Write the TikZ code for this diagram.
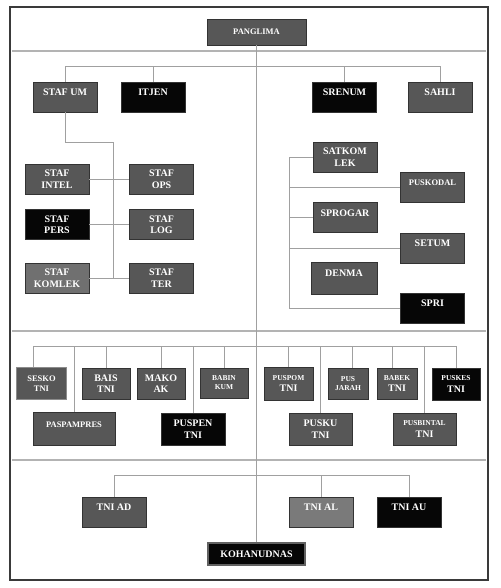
\documentclass[tikz,border=0pt]{standalone}
\usepackage{fontspec}
\setmainfont{Liberation Serif}
\usetikzlibrary{positioning}

\definecolor{unitgray}{HTML}{575757}
\definecolor{unitblack}{HTML}{060606}
\definecolor{unitlight}{HTML}{707070}
\definecolor{linegray}{HTML}{A0A0A0}
\definecolor{framegray}{HTML}{3A3A3A}

\newcommand{\fbig}{\fontsize{10}{11.5}\selectfont\bfseries}
\newcommand{\fmid}{\fontsize{8.5}{10}\selectfont\bfseries}
\newcommand{\fsml}{\fontsize{7.5}{9}\selectfont\bfseries}

\begin{document}
\begin{tikzpicture}[x=1pt, y=-1pt,
  unit/.style={draw=black!80, line width=0.8pt, fill=unitgray, text=white,
    font=\fbig, align=center, inner sep=0pt,
    minimum width=64, minimum height=30},
  unitdark/.style={unit, fill=unitblack},
  unitlight/.style={unit, fill=unitlight},
  oneline/.style={text height=7pt, text depth=10pt},
  small/.style={minimum width=48, minimum height=31},
  conn/.style={draw=linegray, line width=0.9pt},
  sepline/.style={draw=linegray!80, line width=1.3pt}]
  \useasboundingbox (0,0) rectangle (500,588);
  \fill[white] (0,0) rectangle (500,588);

  %% Frame and band separators
  \draw[framegray, line width=2.6pt] (10,7) rectangle (488,580);
  \draw[sepline] (12,51) -- (486,51);
  \draw[sepline] (12,331) -- (486,331);
  \draw[sepline] (12,460) -- (486,460);

  %% Top
  \node[unit, font=\fmid, minimum width=99, minimum height=26] (panglima)
    at (256.5,32) {PANGLIMA};
  \node[unit, oneline] (stafum) at (65,97) {STAF UM};
  \node[unitdark, oneline] (itjen) at (153,97) {ITJEN};
  \node[unitdark, oneline] (srenum) at (344.5,97) {SRENUM};
  \node[unit, oneline] (sahli) at (440,97) {SAHLI};

  %% Staff group (left)
  \node[unit] (stafintel) at (57,179) {STAF\\INTEL};
  \node[unit] (stafops) at (161.5,179) {STAF\\OPS};
  \node[unitdark] (stafpers) at (57,224.5) {STAF\\PERS};
  \node[unit] (staflog) at (161.5,224.5) {STAF\\LOG};
  \node[unitlight] (stafkomlek) at (57,278) {STAF\\KOMLEK};
  \node[unit] (stafter) at (161.5,278) {STAF\\TER};

  %% Service group (right)
  \node[unit] (satkomlek) at (345,157) {SATKOM\\LEK};
  \node[unit, oneline, font=\fmid] (puskodal) at (432.5,187) {PUSKODAL};
  \node[unit, oneline] (sprogar) at (345,217.5) {SPROGAR};
  \node[unit, oneline] (setum) at (432.5,248) {SETUM};
  \node[unit, oneline, minimum width=66, minimum height=32] (denma)
    at (344,278) {DENMA};
  \node[unitdark, oneline] (spri) at (432.5,308) {SPRI};

  %% Central bodies
  \node[unit, small, draw=black!45, line width=1.8pt, minimum width=50,
    minimum height=32, font=\fmid] (sesko) at (41.5,383.5) {SESKO\\TNI};
  \node[unit, oneline, font=\fmid, minimum width=82, minimum height=33]
    (paspampres) at (74,428.5) {PASPAMPRES};
  \node[unit, small] (bais) at (106,383.5) {BAIS\\TNI};
  \node[unit, small] (makoak) at (161,383.5) {MAKO\\AK};
  \node[unitdark, minimum height=32] (puspen) at (193,429) {PUSPEN\\TNI};
  \node[unit, small, minimum height=30, font=\fsml] (babinkum)
    at (224,383) {BABIN\\KUM};
  \node[unit, small, minimum width=49, minimum height=33, font=\fbig]
    (puspom) at (288.5,383.5) {{\fsml PUSPOM}\\TNI};
  \node[unit, minimum width=63, minimum height=32] (pusku)
    at (320.5,429) {PUSKU\\TNI};
  \node[unit, small, minimum width=40, font=\fsml] (pusjarah)
    at (348,383.5) {PUS\\JARAH};
  \node[unit, small, minimum width=40, font=\fbig] (babek)
    at (397,383.5) {{\fsml BABEK}\\TNI};
  \node[unit, minimum width=63, minimum height=32, font=\fbig] (pusbintal)
    at (424.5,429) {{\fsml PUSBINTAL}\\TNI};
  \node[unitdark, small, minimum height=32, font=\fbig] (puskes)
    at (456,384) {{\fsml PUSKES}\\TNI};

  %% Forces
  \node[unit, oneline] (tniad) at (114,512) {TNI AD};
  \node[unitlight, fill=black!52, oneline] (tnial) at (321,512) {TNI AL};
  \node[unitdark, oneline] (tniau) at (409,512) {TNI AU};
  \node[unitdark, draw=black!62, line width=2.4pt, minimum width=97,
    minimum height=22] (kohanudnas) at (256.5,554) {KOHANUDNAS};

  %% Bars
  \coordinate (bartop) at (256.5,66);
  \coordinate (barmid) at (256.5,346);
  \coordinate (barlow) at (256.5,475);
  \coordinate (stafspine) at (113,142);
  \coordinate (rspine) at (289,157);

  %% Connectors
  \draw[conn] (panglima.south) -- (kohanudnas.north);
  \draw[conn] (stafum.north) -- (stafum.north |- bartop)
    -- (sahli.north |- bartop) -- (sahli.north);
  \foreach \u in {itjen,srenum}
    \draw[conn] (\u.north) -- (\u.north |- bartop);

  \draw[conn] (stafum.south) |- (stafspine) -- (stafspine |- stafter.west);
  \draw[conn] (stafintel) -- (stafops);
  \draw[conn] (stafpers) -- (staflog);
  \draw[conn] (stafkomlek) -- (stafter);

  \draw[conn] (satkomlek.west) -- (rspine) |- (spri.west);
  \foreach \u in {puskodal,sprogar,setum}
    \draw[conn] (\u.west) -- (\u.west -| rspine);

  \draw[conn] ([xshift=-8.5pt]sesko.north) -- ([xshift=-8.5pt]sesko.north |- barmid)
    -- (puskes.north |- barmid) -- (puskes.north);
  \foreach \u in {paspampres,bais,makoak,puspen,babinkum,puspom,pusku,pusbintal}
    \draw[conn] (\u.north) -- (\u.north |- barmid);
  \draw[conn] ([xshift=4pt]pusjarah.north) -- ([xshift=4pt]pusjarah.north |- barmid);
  \draw[conn] ([xshift=-5pt]babek.north) -- ([xshift=-5pt]babek.north |- barmid);

  \draw[conn] (tniad.north) -- (tniad.north |- barlow)
    -- (tniau.north |- barlow) -- (tniau.north);
  \draw[conn] (tnial.north) -- (tnial.north |- barlow);
\end{tikzpicture}
\end{document}
